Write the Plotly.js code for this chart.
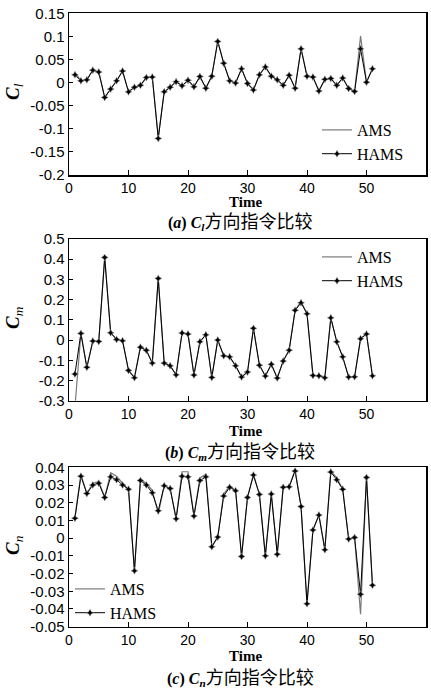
<!DOCTYPE html>
<html><head><meta charset="utf-8">
<script src="https://cdn.plot.ly/plotly-3.0.1.min.js"></script>
<style>html,body{margin:0;padding:0;background:#fff}#chart{width:431px;height:690px}</style>
</head><body><div id="chart"></div>
<script>
const time = [1,2,3,4,5,6,7,8,9,10,11,12,13,14,15,16,17,18,19,20,21,22,23,24,25,26,27,28,29,30,31,32,33,34,35,36,37,38,39,40,41,42,43,44,45,46,47,48,49,50,51];

const clHAMS = [0.017,0.004,0.006,0.027,0.023,-0.032,-0.014,0.004,0.025,-0.020,-0.010,-0.006,0.011,0.012,-0.121,-0.020,-0.010,0.002,-0.007,0.005,-0.009,0.013,-0.012,0.014,0.089,0.042,0.004,-0.001,0.030,-0.002,-0.016,0.017,0.034,0.014,0.006,-0.006,0.016,-0.012,0.073,0.014,0.012,-0.018,0.007,0.009,-0.006,0.010,-0.013,-0.019,0.073,0.001,0.030];
const clAMS  = [0.022,0.004,0.006,0.027,0.023,-0.032,-0.014,0.004,0.025,-0.020,-0.010,-0.006,0.011,0.012,-0.118,-0.020,-0.010,0.002,-0.007,0.005,-0.009,0.013,-0.012,0.014,0.090,0.042,0.004,-0.001,0.030,-0.002,-0.016,0.017,0.034,0.014,0.006,-0.006,0.016,-0.012,0.074,0.014,0.012,-0.018,0.007,0.009,-0.006,0.010,-0.013,-0.019,0.101,0.001,0.030];

const cmHAMS = [-0.168,0.033,-0.135,-0.005,-0.007,0.409,0.036,0.003,-0.003,-0.150,-0.186,-0.035,-0.051,-0.114,0.305,-0.114,-0.127,-0.172,0.035,0.030,-0.173,-0.008,0.026,-0.185,0.000,-0.078,-0.083,-0.127,-0.183,-0.158,0.058,-0.124,-0.178,-0.120,-0.188,-0.104,-0.050,0.147,0.185,0.130,-0.175,-0.177,-0.186,0.110,-0.008,-0.083,-0.183,-0.182,0.007,0.030,-0.177];
const cmAMS  = [-0.330,0.033,-0.135,-0.005,-0.007,0.409,0.036,0.003,-0.003,-0.150,-0.186,-0.035,-0.051,-0.114,0.305,-0.114,-0.127,-0.172,0.035,0.030,-0.173,-0.008,0.026,-0.185,0.000,-0.078,-0.083,-0.127,-0.183,-0.158,0.058,-0.124,-0.178,-0.120,-0.188,-0.104,-0.050,0.147,0.190,0.130,-0.175,-0.177,-0.186,0.110,-0.008,-0.083,-0.183,-0.182,0.007,0.030,-0.177];

const cnHAMS = [0.0112,0.0350,0.0252,0.0300,0.0310,0.0230,0.0346,0.0330,0.0300,0.0276,-0.0184,0.0325,0.0300,0.0256,0.0155,0.0296,0.0280,0.0110,0.0350,0.0346,0.0125,0.0325,0.0346,-0.0048,0.0006,0.0238,0.0287,0.0268,-0.0103,0.0230,0.0356,0.0247,-0.0100,0.0249,-0.0091,0.0287,0.0290,0.0379,0.0178,-0.0370,0.0046,0.0130,-0.0065,0.0373,0.0330,0.0276,-0.0005,0.0003,-0.0317,0.0343,-0.0266];
const cnAMS  = [0.0120,0.0360,0.0252,0.0310,0.0320,0.0230,0.0370,0.0350,0.0310,0.0276,-0.0184,0.0330,0.0310,0.0270,0.0135,0.0296,0.0280,0.0110,0.0375,0.0375,0.0125,0.0340,0.0360,-0.0048,0.0006,0.0250,0.0295,0.0268,-0.0103,0.0230,0.0360,0.0247,-0.0100,0.0249,-0.0091,0.0287,0.0290,0.0385,0.0178,-0.0370,0.0046,0.0130,-0.0065,0.0380,0.0340,0.0276,-0.0005,0.0003,-0.0430,0.0343,-0.0266];

const xTicks = [0,10,20,30,40,50,60];
const clTicks = [0.15,0.1,0.05,0,-0.05,-0.1,-0.15,-0.2];
const clTickText = ['0.15','0.1','0.05','0','-0.05','-0.1','-0.15','-0.2'];
const cmTicks = [0.5,0.4,0.3,0.2,0.1,0,-0.1,-0.2,-0.3];
const cmTickText = ['0.5','0.4','0.3','0.2','0.1','0','-0.1','-0.2','-0.3'];
const cnTicks = [0.04,0.03,0.02,0.01,0,-0.01,-0.02,-0.03,-0.04,-0.05];
const cnTickText = ['0.04','0.03','0.02','0.01','0','-0.01','-0.02','-0.03','-0.04','-0.05'];
const seriesNames = ['AMS','HAMS'];

const W = 431, H = 690, L = 69, R = 5;
const PW = W - L - R;
const px = x => (x - L) / PW;
const py = y => 1 - y / H;

function mk(x, y, name, xa, ya, lg, isH) {
  const t = {x: x, y: y, name: name, xaxis: xa, yaxis: ya, legend: lg, type: 'scatter', cliponaxis: true};
  if (isH) {
    t.mode = 'lines+markers';
    t.line = {color: '#000', width: 1};
    t.marker = {symbol: 'star-diamond', size: 5, color: '#000', line: {color: '#999', width: 0.5}};
  } else {
    t.mode = 'lines';
    t.line = {color: '#7a7a7a', width: 1.2};
  }
  return t;
}

const data = [
  mk(time, clAMS, seriesNames[0], 'x', 'y', 'legend', false),
  mk(time, clHAMS, seriesNames[1], 'x', 'y', 'legend', true),
  mk(time, cmAMS, seriesNames[0], 'x2', 'y2', 'legend2', false),
  mk(time, cmHAMS, seriesNames[1], 'x2', 'y2', 'legend2', true),
  mk(time, cnAMS, seriesNames[0], 'x3', 'y3', 'legend3', false),
  mk(time, cnHAMS, seriesNames[1], 'x3', 'y3', 'legend3', true)
];

const tickFontY = {family: 'Liberation Sans, Arial, sans-serif', size: 15, color: '#000'};
const tickFontX = {family: 'Liberation Sans, Arial, sans-serif', size: 14, color: '#000'};
function xax(anchor) {
  return {anchor: anchor, domain: [0, 1], range: [0, 60], tickvals: xTicks, ticktext: xTicks.map(String),
    ticks: 'inside', ticklen: 5, tickwidth: 1, tickcolor: '#000', showline: true, linecolor: '#000', linewidth: 1.5,
    mirror: true, showgrid: false, zeroline: false, tickfont: tickFontX};
}
function yax(anchor, dom, rng, tv, tt) {
  return {anchor: anchor, domain: dom, range: rng, tickvals: tv, ticktext: tt,
    ticks: 'inside', ticklen: 4, tickwidth: 1, tickcolor: '#000', showline: true, linecolor: '#000', linewidth: 1.5,
    mirror: true, showgrid: false, zeroline: false, tickfont: tickFontY};
}
const legFont = {family: 'Liberation Serif, Times New Roman, serif', size: 16, color: '#000'};
function leg(xp, yp) {
  return {x: px(xp), y: py(yp), xanchor: 'left', yanchor: 'top', bgcolor: 'rgba(0,0,0,0)', borderwidth: 0,
    font: legFont, itemwidth: 30, tracegroupgap: 0};
}
const serif = 'Liberation Serif, Times New Roman, serif';
const capFont = {family: 'Liberation Serif, Noto Sans CJK SC, serif', size: 16, color: '#000'};
function ann(text, xp, yp, size, angle) {
  return {text: text, xref: 'paper', yref: 'paper', x: px(xp), y: py(yp), xanchor: 'center', yanchor: 'middle',
    showarrow: false, textangle: angle || 0, font: {family: serif, size: size, color: '#000'}};
}
function cap(letter, sub, yp) {
  return {text: '<b>(<i>' + letter + '</i>) <i>C</i><sub><i>' + sub + '</i></sub></b><span style="font-family:Noto Sans CJK SC;font-size:18px">方向指令比较</span>',
    xref: 'paper', yref: 'paper', x: px(240), y: py(yp), xanchor: 'center', yanchor: 'middle', showarrow: false, font: capFont};
}

const layout = {
  width: W, height: H,
  margin: {l: L, r: R, t: 0, b: 0},
  paper_bgcolor: '#fff', plot_bgcolor: '#fff',
  showlegend: true,
  xaxis: xax('y'), xaxis2: xax('y2'), xaxis3: xax('y3'),
  yaxis: yax('x', [py(175), py(13.3)], [-0.2, 0.15], clTicks, clTickText),
  yaxis2: yax('x2', [py(400.7), py(239)], [-0.3, 0.5], cmTicks, cmTickText),
  yaxis3: yax('x3', [py(626.7), py(467.3)], [-0.05, 0.04], cnTicks, cnTickText),
  legend: leg(317, 113),
  legend2: leg(317, 240),
  legend3: leg(70, 572),
  annotations: [
    ann('<b><i>C</i></b><sub><i>l</i></sub>', 14, 92, 19, -90),
    ann('<b><i>C</i></b><sub><i>m</i></sub>', 14, 318, 19, -90),
    ann('<b><i>C</i></b><sub><i>n</i></sub>', 14, 545, 19, -90),
    ann('<b>Time</b>', 245, 202, 15),
    ann('<b>Time</b>', 245, 431, 15),
    ann('<b>Time</b>', 245, 656, 15),
    cap('a', 'l', 220),
    cap('b', 'm', 450),
    cap('c', 'n', 676)
  ]
};
Plotly.newPlot('chart', data, layout, {staticPlot: true, displayModeBar: false});
</script></body></html>
